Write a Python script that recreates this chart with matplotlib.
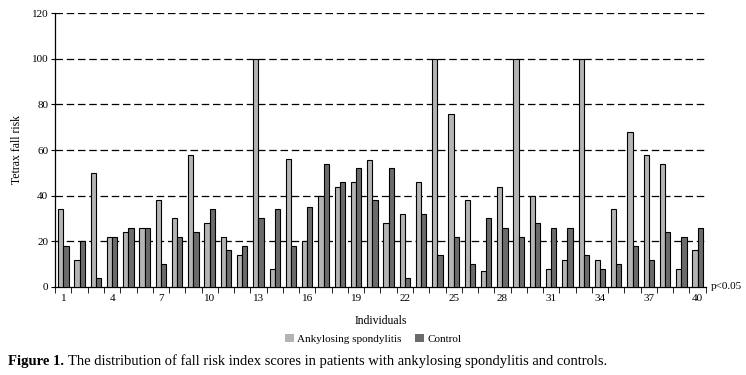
import matplotlib
matplotlib.use('Agg')
import matplotlib.pyplot as plt
from matplotlib.patches import Patch
import numpy as np

# Valores (Tetrax fall risk por individuo)
individuos = list(range(1, 41))
espondilitis = [34, 12, 50, 22, 24, 26, 38, 30, 58, 28,
                22, 14, 100, 8, 56, 20, 40, 44, 46, 55.5,
                28, 32, 46, 100, 76, 38, 7, 44, 100, 40,
                8, 12, 100, 12, 34, 68, 58, 54, 8, 16]
control = [18, 20, 4, 22, 26, 26, 10, 22, 24, 34,
           16, 18, 30, 34, 18, 35, 54, 46, 52, 38,
           52, 4, 32, 14, 22, 10, 30, 26, 22, 28,
           26, 26, 14, 8, 10, 18, 12, 24, 22, 26]
etiquetas_x = [1, 4, 7, 10, 13, 16, 19, 22, 25, 28, 31, 34, 37, 40]
ticks_y = [0, 20, 40, 60, 80, 100, 120]

COLOR_AS = '#b4b4b4'
COLOR_CTRL = '#6b6b6b'

plt.rcParams['font.family'] = ['Liberation Serif', 'DejaVu Serif']

fig = plt.figure(figsize=(7.46, 3.75), dpi=100)
ax = fig.add_axes([0.074, 0.235, 0.872, 0.73])

x = np.array(individuos)
ancho = 0.32
ax.bar(x - ancho / 2, espondilitis, width=ancho, color=COLOR_AS,
       edgecolor='black', linewidth=0.8, zorder=3)
ax.bar(x + ancho / 2, control, width=ancho, color=COLOR_CTRL,
       edgecolor='black', linewidth=0.8, zorder=3)

ax.set_xlim(0.5, 40.5)
ax.set_ylim(0, 120)
ax.set_yticks(ticks_y)
ax.tick_params(axis='y', labelsize=8, length=3, direction='out', pad=2)

# ticks menores en los limites de cada categoria, etiquetas cada 3
ax.set_xticks(np.arange(0.5, 41, 1), minor=True)
ax.set_xticks(etiquetas_x)
ax.set_xticklabels([str(v) for v in etiquetas_x])
ax.tick_params(axis='x', which='major', length=0, labelsize=8, pad=5)
ax.tick_params(axis='x', which='minor', length=4, direction='out')

for v in ticks_y[1:]:
    ax.axhline(v, color='black', linestyle=(0, (6, 3)), linewidth=0.9, zorder=1)

for lado in ['top', 'right']:
    ax.spines[lado].set_visible(False)
ax.spines['left'].set_linewidth(0.9)
ax.spines['bottom'].set_linewidth(0.9)

ax.set_ylabel('Tetrax fall risk', fontsize=8.5, labelpad=6)
ax.set_xlabel('Individuals', fontsize=8.5, labelpad=9)

ax.text(1.008, 0.0, 'p<0.05', transform=ax.transAxes, fontsize=8,
        ha='left', va='center')

handles = [Patch(facecolor=COLOR_AS, edgecolor='none', label='Ankylosing spondylitis'),
           Patch(facecolor=COLOR_CTRL, edgecolor='none', label='Control')]
fig.legend(handles=handles, loc='center', bbox_to_anchor=(0.5, 1 - 339 / 375),
           ncol=2, frameon=False, fontsize=8, handlelength=0.8, handleheight=0.8,
           handletextpad=0.3, columnspacing=1.2)

# pie de figura: parte en negrita y resto normal
t1 = fig.text(8 / 746, 1 - 361 / 375, 'Figure 1.', fontsize=10.5,
              fontweight='bold', ha='left', va='center')
fig.canvas.draw()
bb = t1.get_window_extent()
fig.text((bb.x1 + 4) / 746, 1 - 361 / 375,
         'The distribution of fall risk index scores in patients with ankylosing spondylitis and controls.',
         fontsize=10.5, ha='left', va='center')

fig.savefig('out.png', dpi=100)
